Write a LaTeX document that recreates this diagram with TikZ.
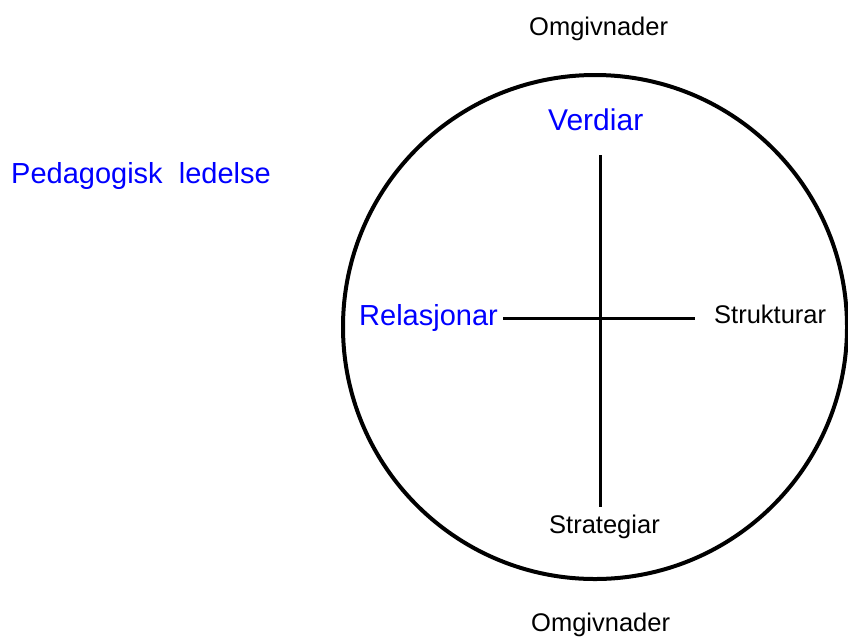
\documentclass[tikz,border=0pt]{standalone}
\usepackage{fontspec}
\setmainfont{Liberation Sans}
\begin{document}
\begin{tikzpicture}[x=1pt,y=-1pt,
  blacktxt/.style={anchor=base west,inner sep=0pt,font=\fontsize{25.5}{30}\selectfont,text=black},
  bluetxt/.style={anchor=base west,inner sep=0pt,font=\fontsize{29}{34}\selectfont,text=blue},
  ring/.style={line width=4pt,draw=black},
  axis/.style={line width=3pt,draw=black}]
\useasboundingbox (0,0) rectangle (848,638);
\draw[ring] (595,327) circle (252);
\node[blacktxt] (omgtop) at (529,35) {Omgivnader};
\node[blacktxt] (omgbot) at (531,631) {Omgivnader};
\node[bluetxt] (ped) at (11,183) {Pedagogisk\ \ ledelse};
\node[bluetxt,font=\fontsize{30}{35}\selectfont] (verd) at (548,130) {Verdiar};
\node[bluetxt] (rel) at (359,325) {Relasjonar};
\node[blacktxt] (struk) at (714,323) {Strukturar};
\node[blacktxt] (strat) at (549,533) {Strategiar};
\coordinate (vtop) at (600,155);
\coordinate (vbot) at (600,507);
\coordinate (hleft) at (503,318);
\coordinate (hright) at (695,318);
\draw[axis] (vtop) -- (vbot);
\draw[axis] (hleft) -- (hright);
\end{tikzpicture}
\end{document}
